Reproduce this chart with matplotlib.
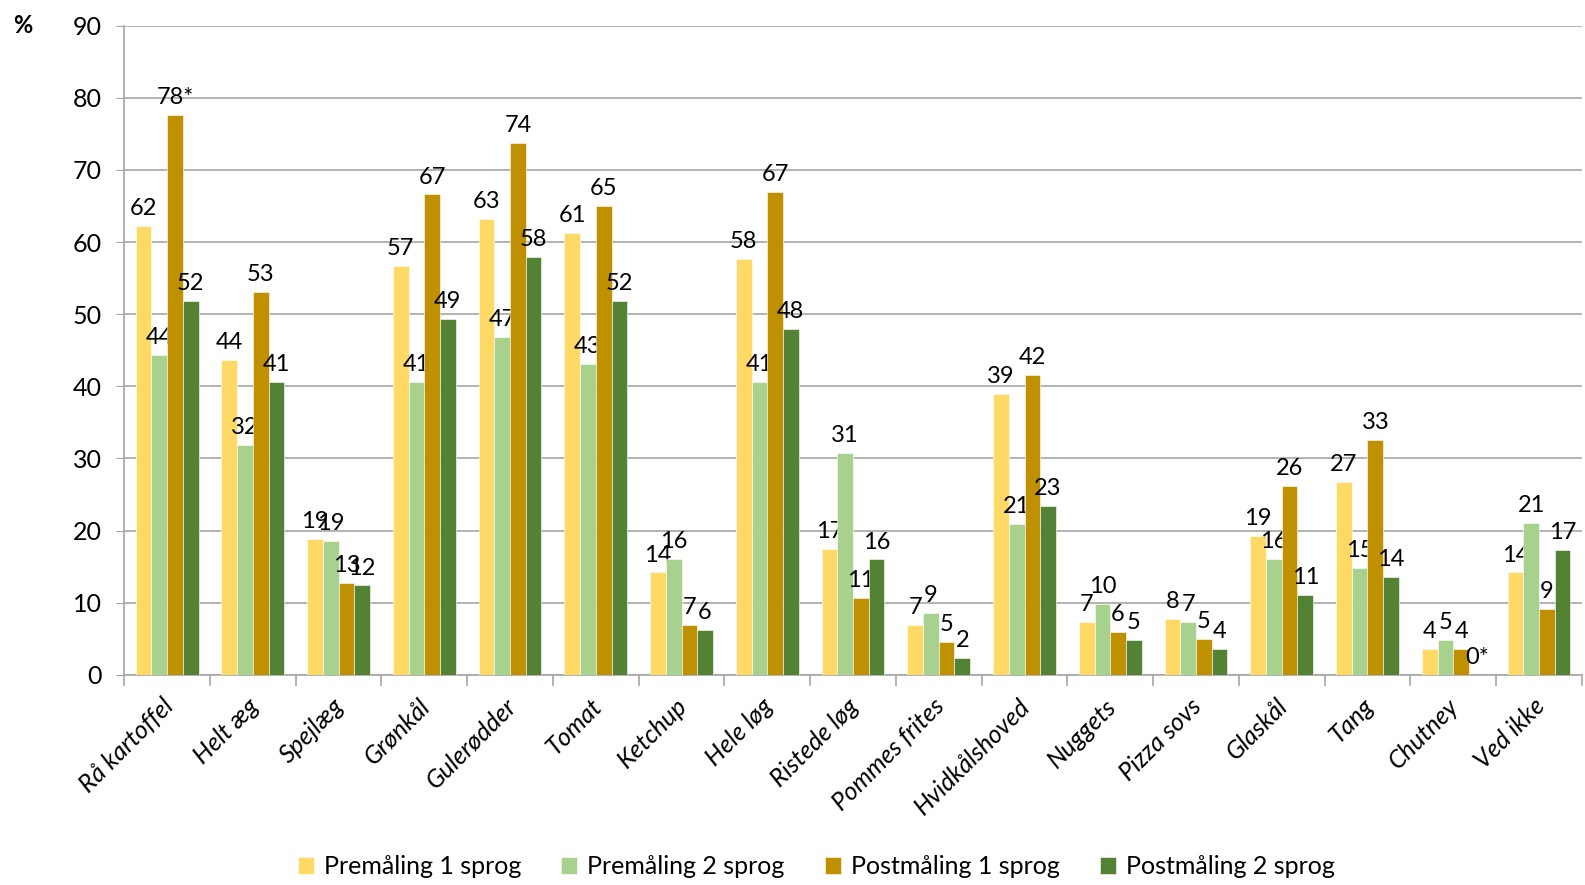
import numpy as np
import matplotlib
matplotlib.use("Agg")
import matplotlib.pyplot as plt
import matplotlib.transforms as mtransforms
from matplotlib.ticker import FixedLocator

plt.rcParams['font.family'] = ['Lato', 'DejaVu Sans']

categories = ["Rå kartoffel", "Helt æg", "Spejlæg", "Grønkål", "Gulerødder",
              "Tomat", "Ketchup", "Hele løg", "Ristede løg", "Pommes frites",
              "Hvidkålshoved", "Nuggets", "Pizza sovs", "Glaskål", "Tang",
              "Chutney", "Ved ikke"]

series_names = ["Premåling 1 sprog", "Premåling 2 sprog",
                "Postmåling 1 sprog", "Postmåling 2 sprog"]

pre_1 = [62.2, 43.6, 18.9, 56.7, 63.2, 61.3, 14.2, 57.7, 17.4, 6.9,
         38.9, 7.3, 7.7, 19.2, 26.7, 3.6, 14.2]
pre_2 = [44.4, 31.9, 18.6, 40.6, 46.8, 43.1, 16.1, 40.6, 30.8, 8.6,
         20.9, 9.8, 7.3, 16.1, 14.8, 4.9, 21.1]
post_1 = [77.6, 53.1, 12.8, 66.6, 73.8, 65.0, 6.9, 66.9, 10.6, 4.6,
          41.6, 5.9, 5.0, 26.2, 32.6, 3.6, 9.1]
post_2 = [51.8, 40.6, 12.4, 49.3, 58.0, 51.8, 6.2, 48.0, 16.0, 2.4,
          23.4, 4.9, 3.6, 11.1, 13.6, 0.0, 17.3]

# significance markers appended to a few labels
post_1_marks = {"Rå kartoffel": "*"}
post_2_marks = {"Chutney": "*"}

colors = ["#FFD966", "#A9D18E", "#BF9000", "#548235"]

fig = plt.figure(figsize=(15.85, 8.85), dpi=100)
ax = fig.add_axes([0.0784, 0.2374, 0.9196, 0.7336])

x = np.arange(len(categories))
width = 0.183
all_series = [pre_1, pre_2, post_1, post_2]
all_marks = [{}, {}, post_1_marks, post_2_marks]

for i, (vals, name, col, marks) in enumerate(zip(all_series, series_names, colors, all_marks)):
    pos = x + (i - 1.5) * width
    bars = ax.bar(pos, vals, width, color=col, label=name,
                  edgecolor="white", linewidth=0.4, zorder=3)
    labels = [f"{v:.0f}" + marks.get(c, "") for v, c in zip(vals, categories)]
    ax.bar_label(bars, labels=labels, padding=5, fontsize=17)

ax.set_xlim(-0.5, len(categories) - 0.5)
ax.set_ylim(0, 90)
ax.set_yticks(range(0, 91, 10))
ax.tick_params(axis='y', labelsize=18, length=6, color="#A6A6A6", pad=10)
ax.yaxis.grid(True, color="#A6A6A6", linewidth=1.2, zorder=0)

ax.set_xticks(x)
ax.set_xticklabels(categories, rotation=45, ha="right", va="top",
                   rotation_mode="anchor", fontsize=18, style="italic")
ax.tick_params(axis='x', which='major', length=0, pad=14)
ax.xaxis.set_minor_locator(FixedLocator(np.arange(-0.5, len(categories), 1)))
ax.tick_params(axis='x', which='minor', length=8, color="#A6A6A6", width=1.2)

# nudge the rotated category names a little to the left
shift = mtransforms.ScaledTranslation(-6 / 100, 0, fig.dpi_scale_trans)
for lbl in ax.get_xticklabels():
    lbl.set_transform(lbl.get_transform() + shift)

for side in ["top", "right"]:
    ax.spines[side].set_visible(False)
for side in ["left", "bottom"]:
    ax.spines[side].set_color("#A6A6A6")
    ax.spines[side].set_linewidth(1.2)

fig.text(0.008, 0.963, "%", fontsize=17, fontweight="bold")

fig.legend(loc="lower center", bbox_to_anchor=(0.515, -0.018), ncol=4,
           frameon=False, fontsize=18, handlelength=0.65, handleheight=0.65,
           handletextpad=0.4, columnspacing=1.6)

fig.savefig("out.png", dpi=100)
